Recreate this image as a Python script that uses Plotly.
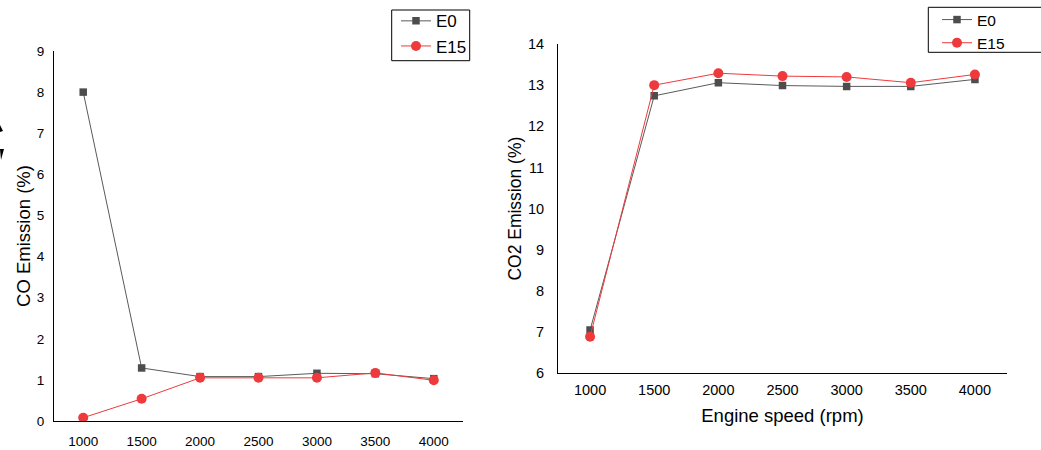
import plotly.graph_objects as go

speed = [1000, 1500, 2000, 2500, 3000, 3500, 4000]
co_e0 = [8.0, 1.29, 1.08, 1.08, 1.16, 1.15, 1.03]
co_e15 = [0.08, 0.54, 1.05, 1.05, 1.05, 1.17, 0.99]
co2_e0 = [7.05, 12.74, 13.06, 12.99, 12.97, 12.97, 13.14]
co2_e15 = [6.89, 13.0, 13.29, 13.22, 13.2, 13.06, 13.26]
x_ticks = [1000, 1500, 2000, 2500, 3000, 3500, 4000]

FONT = "Liberation Sans, Arial, sans-serif"
GRAY = "#4d4d4d"
GRAY_LINE = "#5a5a5a"
RED = "#ee3a3c"

W, H = 1041, 450


def px(x):
    return x / W


def py(y):
    return 1 - y / H


fig = go.Figure()


def add_pair(x, e0, e15, xa, ya, leg):
    fig.add_trace(go.Scatter(x=x, y=e0, name="E0", mode="lines+markers",
                             line=dict(color=GRAY_LINE, width=1),
                             marker=dict(symbol="square", size=7.5, color=GRAY),
                             xaxis=xa, yaxis=ya, legend=leg))
    fig.add_trace(go.Scatter(x=x, y=e15, name="E15", mode="lines+markers",
                             line=dict(color=RED, width=1),
                             marker=dict(symbol="circle", size=10, color=RED),
                             xaxis=xa, yaxis=ya, legend=leg))


add_pair(speed, co_e0, co_e15, "x", "y", "legend")
add_pair(speed, co2_e0, co2_e15, "x2", "y2", "legend2")

axis_common = dict(showline=True, linecolor="black", linewidth=1, showgrid=False,
                   zeroline=False, ticks="", mirror=False)

fig.update_layout(
    width=W, height=H,
    margin=dict(l=0, r=0, t=0, b=0, autoexpand=False),
    paper_bgcolor="white", plot_bgcolor="white",
    font=dict(family=FONT, color="black"),
    xaxis=dict(domain=[px(54), px(463)], range=[750, 4250], tickvals=x_ticks,
               tickfont=dict(size=13.5), ticklabelstandoff=8, anchor="y", **axis_common),
    yaxis=dict(domain=[py(421), py(51)], range=[0, 9], dtick=1,
               tickfont=dict(size=13.5), ticklabelstandoff=6, anchor="x",
               title=dict(text="CO Emission (%)", font=dict(size=18.5), standoff=1),
               **axis_common),
    xaxis2=dict(domain=[px(558), px(1007)], range=[750, 4250], tickvals=x_ticks,
                tickfont=dict(size=14.5), ticklabelstandoff=3, anchor="y2",
                title=dict(text="Engine speed (rpm)", font=dict(size=18.5), standoff=12),
                **axis_common),
    yaxis2=dict(domain=[py(373.3), py(44)], range=[6, 14], dtick=1,
                tickfont=dict(size=14.5), ticklabelstandoff=10, anchor="x2",
                title=dict(text="CO2 Emission (%)", font=dict(size=17.5), standoff=1),
                **axis_common),
    legend=dict(x=px(396), y=py(3.3), xanchor="left", yanchor="top",
                borderwidth=0, bgcolor="rgba(0,0,0,0)",
                font=dict(size=17), tracegroupgap=0),
    legend2=dict(x=px(937), y=py(3), xanchor="left", yanchor="top",
                 borderwidth=0, bgcolor="rgba(0,0,0,0)",
                 font=dict(size=15.5), tracegroupgap=0),
    showlegend=True,
    shapes=[
        # legend frames
        dict(type="rect", xref="paper", yref="paper",
             x0=px(391.7), x1=px(469.7), y0=py(60.7), y1=py(10),
             line=dict(color="black", width=1), fillcolor="white", layer="below"),
        dict(type="rect", xref="paper", yref="paper",
             x0=px(928.3), x1=px(1048), y0=py(52.3), y1=py(7.3),
             line=dict(color="black", width=1), fillcolor="white", layer="below"),
        # stray marks at the left edge of the source image
        dict(type="path", xref="paper", yref="paper",
             path=f"M 0 {py(125)} L {px(3)} {py(131)} L 0 {py(132)} Z",
             fillcolor="black", line=dict(width=0)),
        dict(type="path", xref="paper", yref="paper",
             path=f"M 0 {py(149)} L {px(4)} {py(149)} L {px(1)} {py(160)} Z",
             fillcolor="black", line=dict(width=0)),
    ],
)

fig.write_html("out.html", config={"displayModeBar": False},
               post_script="document.body.style.margin='0';")
